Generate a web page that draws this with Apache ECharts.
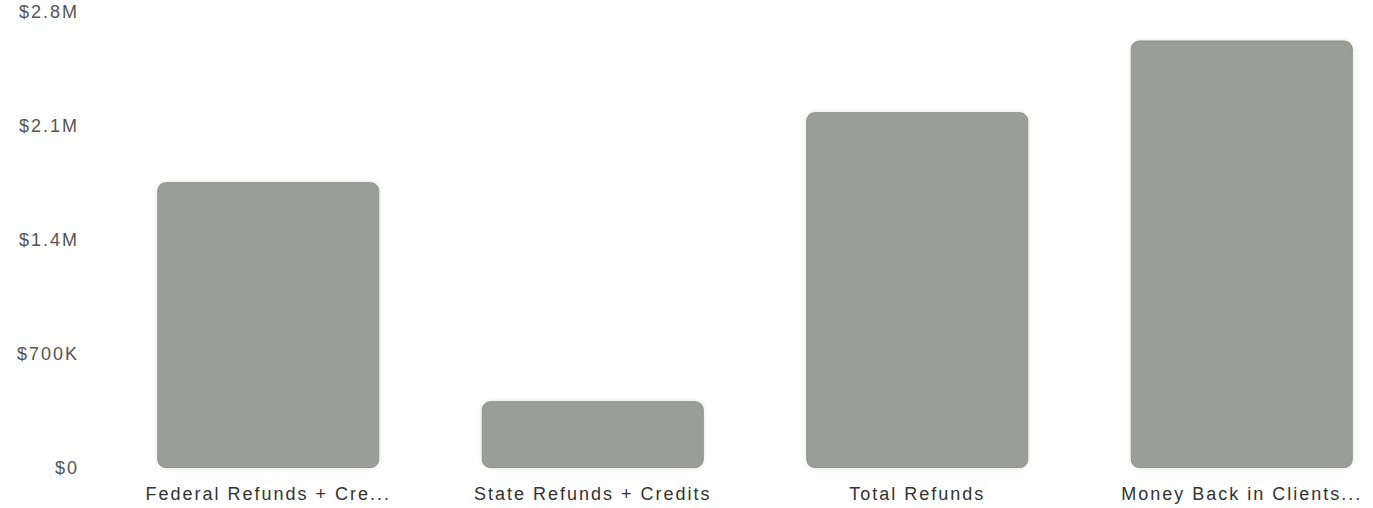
<!DOCTYPE html>
<html>
<head>
<meta charset="utf-8">
<script src="https://cdn.jsdelivr.net/npm/echarts@6/dist/echarts.min.js"></script>
<style>
html,body{margin:0;padding:0;background:#fff;overflow:hidden;width:1373px;height:508px;}
#chart{width:1404px;height:508px;}
#chart svg text{letter-spacing:2px;}
</style>
</head>
<body>
<div id="chart"></div>
<script>
const categories = ["Federal Refunds + Credits", "State Refunds + Credits", "Total Refunds", "Money Back in Clients' Pockets"];
const values = [1755000, 410000, 2185000, 2625000];
const yTicks = [0, 700000, 1400000, 2100000, 2800000];

function fmt(v) {
  if (v === 0) return "$0";
  if (v >= 1000000) return "$" + (v / 1000000).toFixed(1) + "M";
  return "$" + (v / 1000) + "K";
}
function shorten(s) {
  return s.length > 23 ? s.slice(0, 21) + "..." : s;
}

const chart = echarts.init(document.getElementById('chart'), null, { renderer: 'svg' });
chart.setOption({
  animation: false,
  grid: { left: 106, top: 12, bottom: 40, right: 0, containLabel: false },
  xAxis: {
    type: 'category',
    data: categories,
    axisLine: { show: false },
    axisTick: { show: false },
    axisLabel: {
      color: '#333',
      fontFamily: 'Liberation Sans, Arial, sans-serif',
      fontSize: 18,
      margin: 17,
      interval: 0,
      formatter: shorten
    }
  },
  yAxis: {
    type: 'value',
    min: yTicks[0],
    max: yTicks[yTicks.length - 1],
    interval: yTicks[1] - yTicks[0],
    splitLine: { show: false },
    axisLine: { show: false },
    axisTick: { show: false },
    axisLabel: {
      color: '#555',
      fontFamily: 'Liberation Sans, Arial, sans-serif',
      fontSize: 18,
      margin: 27,
      formatter: fmt
    }
  },
  series: [{
    type: 'bar',
    data: values,
    barWidth: 222,
    itemStyle: {
      color: '#9b9d99',
      borderRadius: 8,
      borderColor: '#8e908c',
      borderWidth: 1,
      shadowColor: 'rgba(0,0,0,0.12)',
      shadowBlur: 4
    }
  }]
});
</script>
</body>
</html>
